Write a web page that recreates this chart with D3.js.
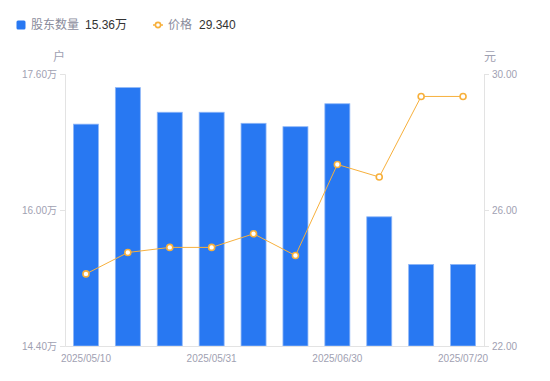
<!DOCTYPE html>
<html><head><meta charset="utf-8">
<script src="https://cdn.jsdelivr.net/npm/d3@7/dist/d3.min.js"></script>
<style>body{margin:0;background:#fff;}svg{display:block;font-family:"Liberation Sans","Noto Sans CJK SC",sans-serif;}</style>
</head><body>
<script>
const dates = ["2025/05/10","2025/05/20","2025/05/23","2025/05/31","2025/06/10","2025/06/20","2025/06/30","2025/07/04","2025/07/10","2025/07/20"];
const holders = [17.01,17.44,17.15,17.15,17.02,16.98,17.25,15.92,15.36,15.36];
const prices = [24.12,24.75,24.90,24.90,25.30,24.66,27.34,26.97,29.34,29.34];
const shownDates = ["2025/05/10","2025/05/31","2025/06/30","2025/07/20"];
const leftTicks = [14.4,16.0,17.6];
const rightTicks = [22,26,30];

const W=550,H=381;
const m={l:65,r:66,t:74,b:35};
const svg=d3.select("body").append("svg").attr("width",W).attr("height",H);
const xc=d3.scaleBand().domain(dates).range([m.l,W-m.r]);
const yL=d3.scaleLinear().domain([14.4,17.6]).range([H-m.b,m.t]);
const yR=d3.scaleLinear().domain([22,30]).range([H-m.b,m.t]);
const grey="#9fa1b2", axisCol="#e3e3e3";
const font="'Liberation Sans','Noto Sans CJK SC',sans-serif";

// bars
svg.append("g").selectAll("rect").data(holders).join("rect")
 .attr("x",(d,i)=>xc(dates[i])+xc.bandwidth()/2-12.5).attr("width",25)
 .attr("y",d=>yL(d)).attr("height",d=>yL(14.4)-yL(d))
 .attr("fill","#2878f2").attr("stroke","#8fb7f7").attr("stroke-width",0.8);

// axes
const gl=svg.append("g").attr("transform",`translate(${m.l},0)`)
 .call(d3.axisLeft(yL).tickValues(leftTicks).tickSize(5).tickPadding(3).tickFormat(d=>d3.format(".2f")(d)+"万"));
const gr=svg.append("g").attr("transform",`translate(${W-m.r},0)`)
 .call(d3.axisRight(yR).tickValues(rightTicks).tickSize(5).tickPadding(3).tickFormat(d3.format(".2f")));
const gb=svg.append("g").attr("transform",`translate(0,${H-m.b})`)
 .call(d3.axisBottom(xc).tickValues(shownDates).tickSize(0).tickPadding(9));
[gl,gr,gb].forEach(g=>{
 g.selectAll(".domain").attr("stroke",axisCol);
 g.selectAll(".tick line").attr("stroke",axisCol);
 g.selectAll("text").attr("fill",grey).style("font-family",font).style("font-size","10px");
});

// unit labels
svg.append("text").attr("x",59).attr("y",61).attr("text-anchor","middle").attr("fill",grey).style("font-family","'Noto Sans CJK SC',sans-serif").style("font-size","12px").text("户");
svg.append("text").attr("x",490).attr("y",61).attr("text-anchor","middle").attr("fill",grey).style("font-family","'Noto Sans CJK SC',sans-serif").style("font-size","12px").text("元");

// line
const cx=i=>xc(dates[i])+xc.bandwidth()/2;
const orange="#f7b03c";
svg.append("path").datum(prices).attr("fill","none").attr("stroke",orange).attr("stroke-width",1)
 .attr("d",d3.line().x((d,i)=>cx(i)).y(d=>yR(d)));
svg.append("g").selectAll("circle").data(prices).join("circle")
 .attr("cx",(d,i)=>cx(i)).attr("cy",d=>yR(d)).attr("r",3)
 .attr("fill","#fff").attr("stroke",orange).attr("stroke-width",1.6);

// legend
const lg=svg.append("g").style("font-size","12px");
lg.append("rect").attr("x",16.5).attr("y",20.5).attr("width",9).attr("height",9).attr("rx",1.5).attr("fill","#2878f2");
lg.append("text").attr("x",31).attr("y",29).attr("fill","#8a8c9c").style("font-family","'Noto Sans CJK SC',sans-serif").text("股东数量");
lg.append("text").attr("x",85).attr("y",29).attr("fill","#333").text("15.36万");
lg.append("line").attr("x1",153).attr("x2",163).attr("y1",25).attr("y2",25).attr("stroke",orange).attr("stroke-width",1.5);
lg.append("circle").attr("cx",158).attr("cy",25).attr("r",2.6).attr("fill","#fff").attr("stroke",orange).attr("stroke-width",1.6);
lg.append("text").attr("x",168).attr("y",29).attr("fill","#8a8c9c").style("font-family","'Noto Sans CJK SC',sans-serif").text("价格");
lg.append("text").attr("x",199).attr("y",29).attr("fill","#333").text("29.340");
</script>
</body></html>
